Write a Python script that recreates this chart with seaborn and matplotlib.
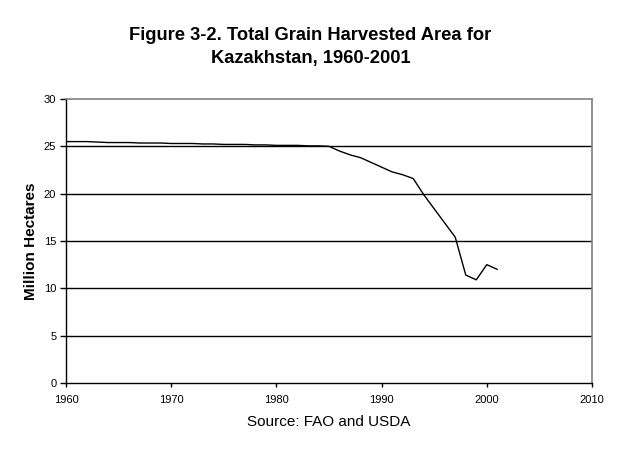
import matplotlib
matplotlib.use("Agg")
import matplotlib.pyplot as plt
import seaborn as sns
import pandas as pd

years = list(range(1960, 2002))
area = [25.5, 25.5, 25.5, 25.45, 25.4, 25.4, 25.4, 25.35, 25.35, 25.35,
        25.3, 25.3, 25.3, 25.25, 25.25, 25.2, 25.2, 25.2, 25.15, 25.15,
        25.1, 25.1, 25.1, 25.05, 25.05, 25.0, 24.5, 24.1, 23.8, 23.3,
        22.8, 22.3, 22.0, 21.6, 19.9, 18.4, 16.9, 15.4, 11.4, 10.9,
        12.5, 12.0]

df = pd.DataFrame({"year": years, "area": area})

sns.set_style("white")
plt.rcParams["font.family"] = ["Liberation Sans", "DejaVu Sans"]
plt.rcParams["text.color"] = "black"
plt.rcParams["axes.labelcolor"] = "black"
plt.rcParams["xtick.color"] = "black"
plt.rcParams["ytick.color"] = "black"

fig = plt.figure(figsize=(6.21, 4.51), dpi=100)
ax = fig.add_axes([0.1063, 0.1508, 0.847, 0.6297])

for v in [5, 10, 15, 20, 25]:
    ax.axhline(v, color="black", lw=1, zorder=1)

sns.lineplot(data=df, x="year", y="area", color="black", lw=1, ax=ax, zorder=3)

ax.set_xlim(1960, 2010)
ax.set_ylim(0, 30)
ax.set_xticks(range(1960, 2011, 10))
ax.set_yticks(range(0, 31, 5))
ax.tick_params(axis="both", labelsize=8, direction="out", length=4, width=1,
               color="black", left=True, bottom=True, pad=3)
ax.tick_params(axis="x", length=3, pad=6)

for s in ["left", "bottom"]:
    ax.spines[s].set_color("black")
    ax.spines[s].set_linewidth(1)
for s in ["top", "right"]:
    ax.spines[s].set_color("#808080")
    ax.spines[s].set_linewidth(1.2)

ax.set_xlabel("Source: FAO and USDA", fontsize=11, labelpad=7)
ax.set_ylabel("Million Hectares", fontsize=11, fontweight="bold", labelpad=4)

fig.suptitle("Figure 3-2. Total Grain Harvested Area for\nKazakhstan, 1960-2001",
             fontsize=13.2, fontweight="bold", x=0.5, y=0.94, linespacing=1.45)

fig.savefig("out.png", dpi=100)
